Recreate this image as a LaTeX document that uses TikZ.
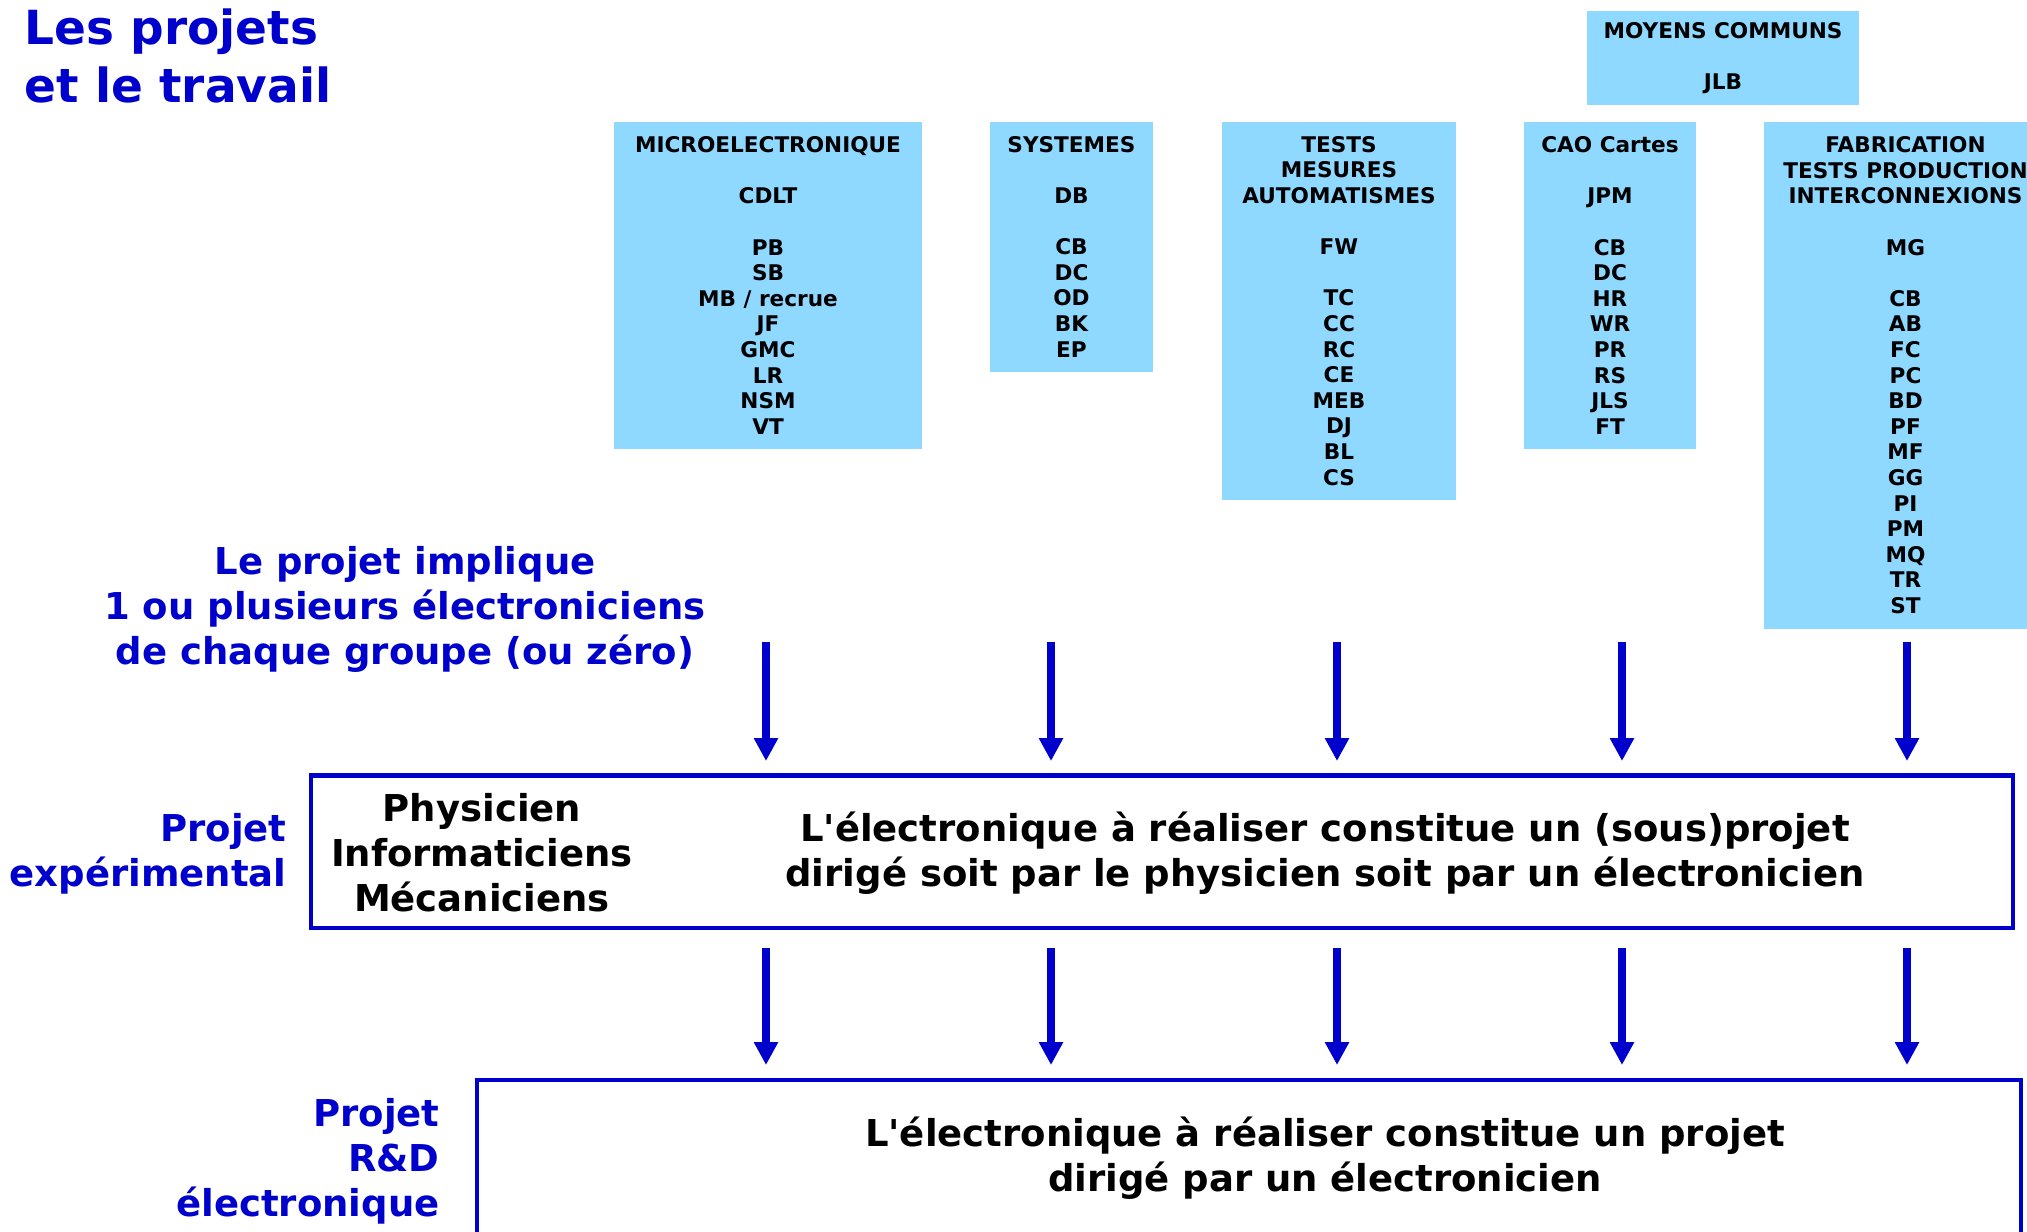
\documentclass[tikz,border=0pt]{standalone}
\usepackage{fontspec}
\setmainfont{DejaVu Sans}
\usepackage{tikz}
\usetikzlibrary{arrows.meta}
\definecolor{TextBlue}{RGB}{0,0,204}
\definecolor{GroupBlue}{RGB}{143,216,255}

\begin{document}
\begin{tikzpicture}[x=0.5pt,y=-0.5pt]
  \tikzset{GroupStyle/.style = {
    shape         = rectangle,
    fill          = GroupBlue,
    draw          = none,
    text          = black,
    align         = center,
    inner sep     = 0pt,
    outer sep     = 0pt,
    font          = \bfseries\fontsize{10.8}{12.8}\selectfont
    }
  }
  \tikzset{ProjectStyle/.style = {
    shape         = rectangle,
    draw          = TextBlue,
    fill          = white,
    line width    = 2.2pt,
    inner sep     = 0pt,
    outer sep     = 0pt
    }
  }
  \tikzset{LabelStyle/.style = {
    text          = TextBlue,
    inner sep     = 0pt,
    font          = \bfseries\fontsize{18.5}{22.4}\selectfont
    }
  }
  \tikzset{InsideStyle/.style = {
    text          = black,
    align         = center,
    inner sep     = 0pt,
    font          = \bfseries\fontsize{18.5}{22.4}\selectfont
    }
  }
  \tikzset{ArrowStyle/.style = {
    draw          = TextBlue,
    line width    = 4pt,
    -{Triangle[length=11.5pt,width=11.5pt]}
    }
  }

  \useasboundingbox (0,0) rectangle (2027,1231);
  \clip (0,0) rectangle (2027,1231);

  \node[LabelStyle, align=left, anchor=west,
        font=\bfseries\fontsize{23.5}{29}\selectfont] (T0) at (24,56) {Les projets\\et le travail};

  \node[GroupStyle, minimum width=136pt, minimum height=47pt] (G0) at (1723,58)
    {MOYENS COMMUNS\\[12.8pt]JLB};
  \node[GroupStyle, minimum width=154pt, minimum height=163.5pt] (G1) at (768,285.5)
    {MICROELECTRONIQUE\\[12.8pt]CDLT\\[12.8pt]PB\\SB\\MB / recrue\\JF\\GMC\\LR\\NSM\\VT};
  \node[GroupStyle, minimum width=81.5pt, minimum height=124.75pt] (G2) at (1071.5,246.75)
    {SYSTEMES\\[12.8pt]DB\\[12.8pt]CB\\DC\\OD\\BK\\EP};
  \node[GroupStyle, minimum width=117pt, minimum height=188.75pt] (G3) at (1339,310.75)
    {TESTS\\MESURES\\AUTOMATISMES\\[12.8pt]FW\\[12.8pt]TC\\CC\\RC\\CE\\MEB\\DJ\\BL\\CS};
  \node[GroupStyle, minimum width=86pt, minimum height=163.5pt] (G4) at (1610,285.5)
    {CAO Cartes\\[12.8pt]JPM\\[12.8pt]CB\\DC\\HR\\WR\\PR\\RS\\JLS\\FT};
  \node[GroupStyle, minimum width=141.5pt, minimum height=253.25pt] (G5) at (1905.5,375.25)
    {FABRICATION\\TESTS PRODUCTION\\INTERCONNEXIONS\\[12.8pt]MG\\[12.8pt]CB\\AB\\FC\\PC\\BD\\PF\\MF\\GG\\PI\\PM\\MQ\\TR\\ST};

  \node[LabelStyle, align=center] (L1) at (405,609.5)
    {Le projet implique\\1 ou plusieurs électroniciens\\de chaque groupe (ou zéro)};

  \coordinate (A1) at (766,642);
  \coordinate (A2) at (1051,642);
  \coordinate (A3) at (1337,642);
  \coordinate (A4) at (1622,642);
  \coordinate (A5) at (1907,642);
  \coordinate (B1) at (766,761);
  \coordinate (B2) at (1051,761);
  \coordinate (B3) at (1337,761);
  \coordinate (B4) at (1622,761);
  \coordinate (B5) at (1907,761);
  \draw[ArrowStyle] (A1) -- (B1);
  \draw[ArrowStyle] (A2) -- (B2);
  \draw[ArrowStyle] (A3) -- (B3);
  \draw[ArrowStyle] (A4) -- (B4);
  \draw[ArrowStyle] (A5) -- (B5);

  \node[ProjectStyle, minimum width=851pt, minimum height=76.25pt] (P1) at (1162,851.75) {};
  \node[LabelStyle, align=right, anchor=east] (L2) at (287,853.5) {Projet\\expérimental};
  \node[InsideStyle] (M1) at (482,852.7) {Physicien\\Informaticiens\\Mécaniciens};
  \node[InsideStyle] (M2) at (1325,853)
    {L\textquotesingle électronique à réaliser constitue un (sous)projet\\dirigé soit par le physicien soit par un électronicien};

  \coordinate (C1) at (766,948);
  \coordinate (C2) at (1051,948);
  \coordinate (C3) at (1337,948);
  \coordinate (C4) at (1622,948);
  \coordinate (C5) at (1907,948);
  \coordinate (D1) at (766,1065);
  \coordinate (D2) at (1051,1065);
  \coordinate (D3) at (1337,1065);
  \coordinate (D4) at (1622,1065);
  \coordinate (D5) at (1907,1065);
  \draw[ArrowStyle] (C1) -- (D1);
  \draw[ArrowStyle] (C2) -- (D2);
  \draw[ArrowStyle] (C3) -- (D3);
  \draw[ArrowStyle] (C4) -- (D4);
  \draw[ArrowStyle] (C5) -- (D5);

  \node[ProjectStyle, minimum width=772pt, minimum height=90pt] (P2) at (1249,1170) {};
  \node[LabelStyle, align=right, anchor=east] (L3) at (440,1161.3) {Projet\\R\&D\\électronique};
  \node[InsideStyle] (M3) at (1325,1158.3)
    {L\textquotesingle électronique à réaliser constitue un projet\\dirigé par un électronicien};

\end{tikzpicture}
\end{document}
